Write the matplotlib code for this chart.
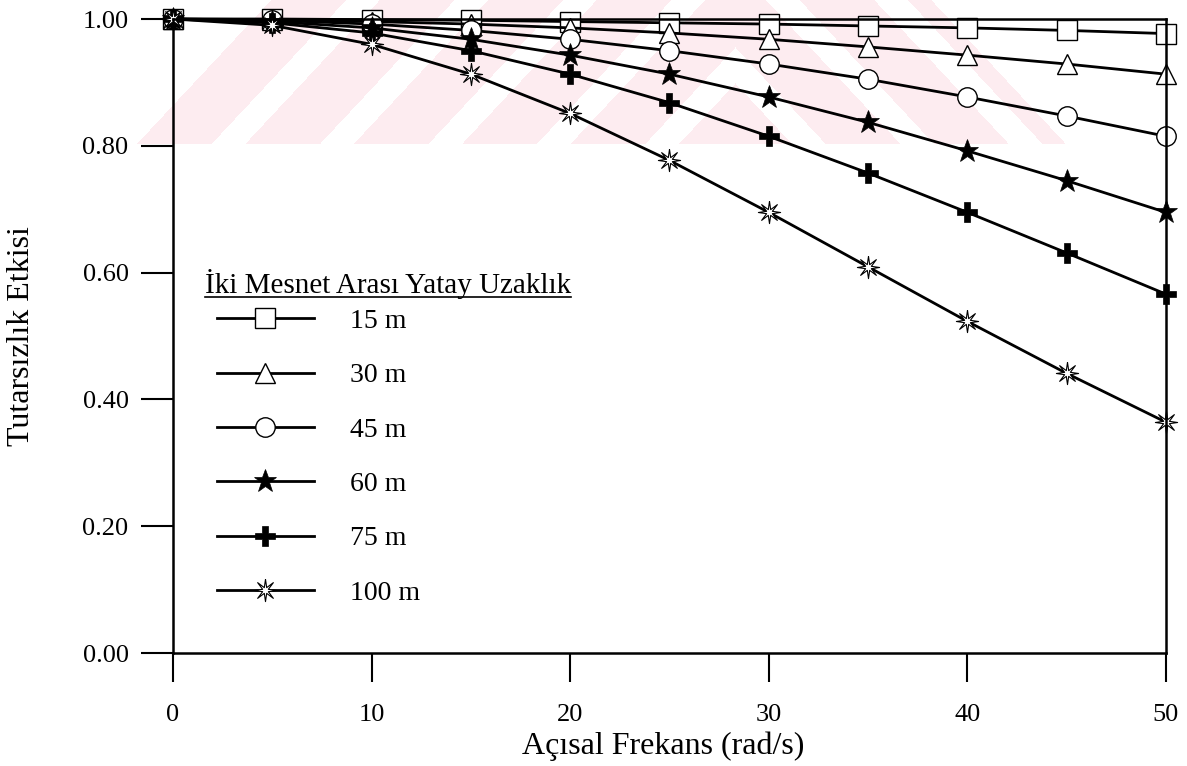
import matplotlib
matplotlib.use('Agg')
import matplotlib.pyplot as plt
import numpy as np

plt.rcParams['font.family'] = ['Liberation Serif', 'DejaVu Serif']

# veri
frekans = [0, 5, 10, 15, 20, 25, 30, 35, 40, 45, 50]
d15 = [1.000, 1.000, 0.999, 0.998, 0.996, 0.994, 0.992, 0.989, 0.986, 0.982, 0.977]
d30 = [1.000, 0.999, 0.996, 0.992, 0.986, 0.978, 0.968, 0.956, 0.943, 0.929, 0.913]
d45 = [1.000, 0.998, 0.992, 0.982, 0.968, 0.950, 0.929, 0.905, 0.877, 0.847, 0.815]
d60 = [1.000, 0.996, 0.986, 0.968, 0.943, 0.913, 0.877, 0.837, 0.792, 0.745, 0.695]
d75 = [1.000, 0.994, 0.978, 0.950, 0.913, 0.868, 0.815, 0.757, 0.695, 0.631, 0.566]
d100 = [1.000, 0.990, 0.960, 0.913, 0.851, 0.777, 0.695, 0.609, 0.523, 0.441, 0.364]
etiketler = ['15 m', '30 m', '45 m', '60 m', '75 m', '100 m']
x_ticks = [0, 10, 20, 30, 40, 50]
y_ticks = [0.0, 0.2, 0.4, 0.6, 0.8, 1.0]

W, H = 1187, 766
fig = plt.figure(figsize=(W / 100, H / 100), dpi=100)
ax = fig.add_axes([173 / W, 1 - 653 / H, (1166 - 173) / W, (653 - 19) / H])
ax.set_facecolor('none')

# soluk pembe filigran (ust bolge)
wh = 144
yy, xx = np.mgrid[0:wh, 0:W]
k = 1.07
xa = 735
c = yy - k * np.abs(xx - xa)
pembe = np.mod(c - 47, 116) >= 36
alan = ((xx <= xa) & (c > -520)) | ((xx > xa) & (c > -210))
img = np.zeros((wh, W, 4))
img[pembe & alan] = [253 / 255, 236 / 255, 240 / 255, 1.0]
fig.figimage(img, xo=0, yo=H - wh, zorder=-1, origin='upper')

# 100 m icin ince 8 kollu yildiz
aci = np.linspace(np.pi / 2, np.pi / 2 + 2 * np.pi, 17)
r = np.where(np.arange(17) % 2 == 0, 1.0, 0.28)
yildiz8 = list(zip(r * np.cos(aci), r * np.sin(aci)))

seriler = [d15, d30, d45, d60, d75, d100]
stiller = [
    dict(marker='s', mfc='white', ms=14, mew=1.0),
    dict(marker='^', mfc='white', ms=15, mew=1.0),
    dict(marker='o', mfc='white', ms=14, mew=1.0),
    dict(marker='*', mfc='black', ms=17, mew=0.5),
    dict(marker='P', mfc='black', ms=15, mew=0.5),
    dict(marker=yildiz8, mfc='white', ms=16, mew=0.8),
]
for y, lab, st in zip(seriler, etiketler, stiller):
    ax.plot(frekans, y, color='black', lw=2.0, mec='black', label=lab,
            clip_on=False, **st)

ax.set_xlim(0, 50)
ax.set_ylim(0, 1.0)
ax.set_xticks(x_ticks)
ax.set_xticklabels([str(t) for t in x_ticks])
ax.set_yticks(y_ticks)
ax.set_yticklabels(['%.2f' % t for t in y_ticks])
ax.tick_params(axis='x', direction='out', length=21, width=1.5, pad=15.5, labelsize=19)
ax.tick_params(axis='y', direction='out', length=23, width=1.5, pad=9, labelsize=19)
for s in ax.spines.values():
    s.set_linewidth(1.8)

ax.set_xlabel('Açısal Frekans (rad/s)', fontsize=23, labelpad=0)
ax.xaxis.set_label_coords(0.494, -0.124)
ax.set_ylabel('Tutarsızlık Etkisi', fontsize=23)
ax.yaxis.set_label_coords(-0.138, 0.5)

leg = ax.legend(loc='upper left', bbox_to_anchor=(0.03, 0.565), frameon=False,
                fontsize=20, handlelength=3.5, handletextpad=1.3,
                labelspacing=1.04, borderpad=0, numpoints=1)

baslik = ax.text(0.032, 0.568, 'İki Mesnet Arası Yatay Uzaklık', fontsize=21,
                 transform=ax.transAxes, ha='left', va='baseline')

# baslik alti cizgi
fig.canvas.draw()
bb = baslik.get_window_extent(fig.canvas.get_renderer())
inv = fig.transFigure.inverted()
(x0, _), (x1, _) = inv.transform([(bb.x0, 0), (bb.x1, 0)])
yl = 1 - 297 / H
fig.add_artist(plt.Line2D([x0, x1], [yl, yl], color='black', lw=1.2,
                          transform=fig.transFigure))

fig.savefig('out.png', dpi=100, facecolor='white')
